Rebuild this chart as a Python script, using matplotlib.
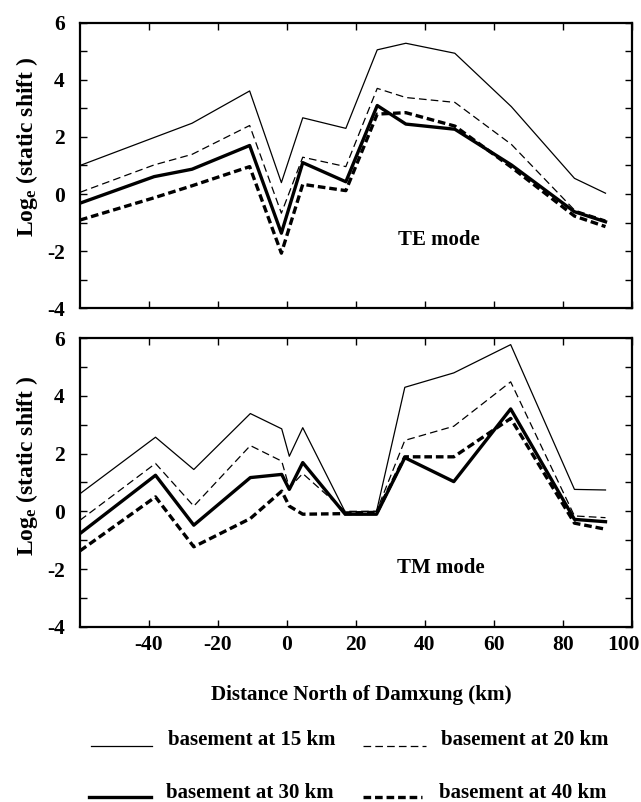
import matplotlib
matplotlib.use("Agg")
import matplotlib.pyplot as plt
from matplotlib.lines import Line2D
from matplotlib.transforms import ScaledTranslation

plt.rcParams['font.family'] = ['Liberation Serif', 'DejaVu Serif']
plt.rcParams['font.weight'] = 'bold'
plt.rcParams['axes.unicode_minus'] = False
plt.rcParams['mathtext.fontset'] = 'custom'
plt.rcParams['mathtext.rm'] = 'Liberation Serif:bold'
plt.rcParams['mathtext.it'] = 'Liberation Serif:bold'
plt.rcParams['mathtext.bf'] = 'Liberation Serif:bold'
plt.rcParams['lines.scale_dashes'] = False

# ---------------- data ----------------
te_x = [-60, -38.5, -27.5, -10.8, -1.6, 4.6, 17.1, 26.2, 34.5, 48.7, 65.1, 83.4, 92.4]
te_15 = [1.00, 1.98, 2.48, 3.61, 0.40, 2.67, 2.30, 5.05, 5.28, 4.93, 3.06, 0.55, 0.03]
te_20 = [0.06, 1.02, 1.39, 2.40, -0.67, 1.29, 0.96, 3.70, 3.38, 3.21, 1.74, -0.56, -0.91]
te_30 = [-0.32, 0.61, 0.87, 1.70, -1.37, 1.10, 0.43, 3.10, 2.45, 2.27, 1.02, -0.62, -0.97]
te_40 = [-0.91, -0.13, 0.29, 0.96, -2.07, 0.34, 0.12, 2.80, 2.85, 2.38, 0.94, -0.77, -1.14]

tm_x = [-60, -38.1, -27.0, -10.6, -1.5, 0.7, 4.6, 16.9, 26.0, 34.2, 48.4, 64.9, 83.4, 92.4]
tm_15 = [0.61, 2.57, 1.45, 3.39, 2.86, 1.91, 2.90, -0.02, 0.00, 4.30, 4.80, 5.78, 0.76, 0.74]
tm_20 = [-0.31, 1.66, 0.18, 2.28, 1.74, 0.82, 1.31, 0.00, 0.00, 2.46, 2.95, 4.49, -0.16, -0.22]
tm_30 = [-0.77, 1.25, -0.48, 1.17, 1.28, 0.76, 1.69, -0.10, -0.10, 1.86, 1.03, 3.55, -0.28, -0.36]
tm_40 = [-1.37, 0.50, -1.23, -0.25, 0.70, 0.18, -0.10, -0.08, -0.07, 1.89, 1.89, 3.22, -0.41, -0.62]

series_labels = ["basement at 15 km", "basement at 20 km", "basement at 30 km", "basement at 40 km"]
x_ticks = [-40, -20, 0, 20, 40, 60, 80, 100]
y_ticks = list(range(-4, 7))

styles = [
    dict(color='black', lw=0.9, ls='-'),
    dict(color='black', lw=0.9, ls=(0, (5.5, 3.0))),
    dict(color='black', lw=2.4, ls='-'),
    dict(color='black', lw=2.4, ls=(0, (5.5, 2.8))),
]

fig = plt.figure(figsize=(6.41, 8.02), dpi=100)
ax1 = fig.add_axes([0.1248, 0.6156, 0.8607, 0.3561])
ax2 = fig.add_axes([0.1248, 0.2186, 0.8607, 0.3596])

def style_axes(ax, show_xlabels):
    ax.set_xlim(-60, 100)
    ax.set_ylim(-4, 6)
    ax.set_xticks(x_ticks)
    ax.set_yticks(y_ticks)
    ax.set_yticklabels([str(v) if v % 2 == 0 else '' for v in y_ticks])
    ax.tick_params(direction='in', length=5, width=1.0, top=True, right=True,
                   labelsize=15.5)
    ax.tick_params(axis='y', pad=11)
    ax.tick_params(axis='x', pad=6)
    for s in ax.spines.values():
        s.set_linewidth(1.6)
    if not show_xlabels:
        ax.set_xticklabels([])
    else:
        ax.set_xticklabels([str(v) for v in x_ticks])
    ax.set_ylabel(r"Log$_{\mathrm{e}}$ (static shift )", fontsize=17, fontweight='bold')

for ys, st in zip([te_15, te_20, te_30, te_40], styles):
    ax1.plot(te_x, ys, **st)
for ys, st in zip([tm_15, tm_20, tm_30, tm_40], styles):
    ax2.plot(tm_x, ys, **st)

style_axes(ax1, False)
style_axes(ax2, True)
# shift the "100" label slightly left so it stays inside the figure
lab = ax2.get_xticklabels()[-1]
lab.set_transform(lab.get_transform() + ScaledTranslation(-6 / 72, 0, fig.dpi_scale_trans))

ax1.yaxis.set_label_coords(-0.072, 0.565)
ax2.yaxis.set_label_coords(-0.072, 0.557)

ax1.text(44, -1.6, "TE mode", fontsize=15, fontweight='bold', ha='center', va='center')
ax2.text(44.6, -1.95, "TM mode", fontsize=15, fontweight='bold', ha='center', va='center')

fig.text(361 / 641, 1 - 695 / 802, "Distance North of Damxung (km)", fontsize=15.2,
         fontweight='bold', ha='center', va='center')

# legend drawn manually
W, H = 641.0, 802.0
leg = [
    (91, 152, 746, 168, 740, 0),
    (363, 426, 746, 441, 740, 1),
    (89, 151, 797, 166, 793, 2),
    (363, 422, 797, 439, 793, 3),
]
for x0, x1, yl, xt, yt, i in leg:
    st = styles[i]
    fig.add_artist(Line2D([x0 / W, x1 / W], [1 - yl / H, 1 - yl / H],
                          transform=fig.transFigure, color=st['color'],
                          lw=st['lw'], ls=st['ls']))
    fig.text(xt / W, 1 - yt / H, series_labels[i], fontsize=15, fontweight='bold',
             ha='left', va='center')

fig.savefig("out.png", dpi=100)
